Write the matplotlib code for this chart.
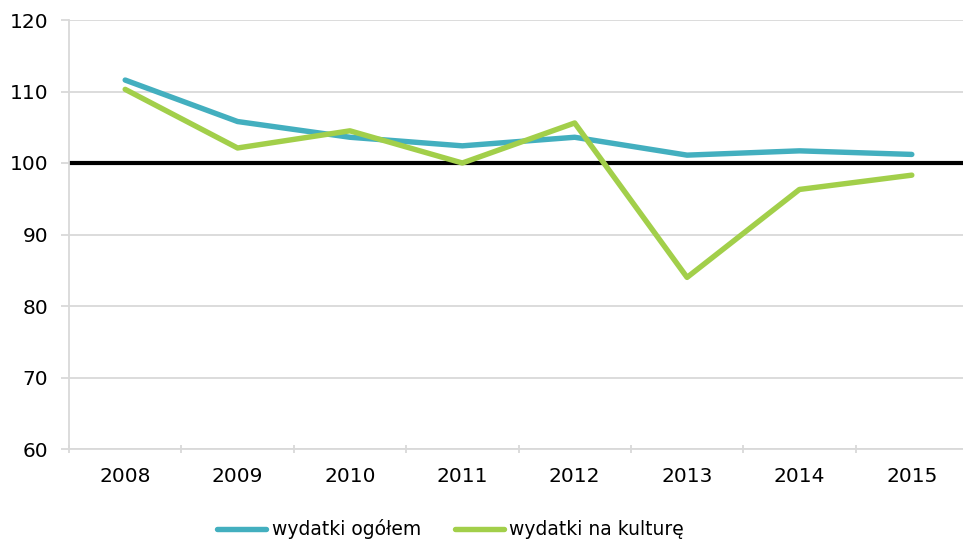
import matplotlib.pyplot as plt
from matplotlib.ticker import FixedLocator

# Data
years = ['2008', '2009', '2010', '2011', '2012', '2013', '2014', '2015']
wydatki_ogolem = [111.6, 105.8, 103.6, 102.4, 103.6, 101.1, 101.7, 101.2]
wydatki_kultura = [110.3, 102.1, 104.5, 100.0, 105.6, 84.0, 96.3, 98.3]
y_ticks = [60, 70, 80, 90, 100, 110, 120]

blue = '#43AFBF'
green = '#A2CF4A'
grid_grey = '#D9D9D9'

plt.rcParams['font.family'] = ['DejaVu Sans']

fig = plt.figure(figsize=(9.63, 5.41), dpi=100)
ax = fig.add_axes([69 / 963, 1 - 449 / 541, 899 / 963, 429 / 541])

x = list(range(len(years)))

# Reference line at 100
ax.axhline(100, color='black', linewidth=3, zorder=2)

ax.plot(x, wydatki_ogolem, color=blue, linewidth=3.9, solid_capstyle='round',
        label='wydatki ogółem', zorder=3)
ax.plot(x, wydatki_kultura, color=green, linewidth=3.9, solid_capstyle='round',
        label='wydatki na kulturę', zorder=3)

ax.set_xlim(-0.5, len(years) - 0.5)
ax.set_ylim(60, 120)
ax.set_yticks(y_ticks)
ax.set_xticks(x)
ax.set_xticklabels(years)
ax.xaxis.set_minor_locator(FixedLocator([i - 0.5 for i in range(len(years) + 1)]))

ax.grid(axis='y', color=grid_grey, linewidth=1.3, zorder=1)
for side in ['top', 'right']:
    ax.spines[side].set_visible(False)
for side in ['left', 'bottom']:
    ax.spines[side].set_color(grid_grey)
    ax.spines[side].set_linewidth(1.3)

ax.tick_params(axis='y', length=6, width=1.3, color=grid_grey, pad=9, labelsize=14.5)
ax.tick_params(axis='x', which='major', length=0, pad=13, labelsize=14.5)
ax.tick_params(axis='x', which='minor', length=6, width=1.3, color=grid_grey, direction='inout')

fig.legend(loc='center', bbox_to_anchor=(0.468, 0.022), ncol=2, frameon=False,
           fontsize=13.5, handlelength=2.6, handletextpad=0.3, columnspacing=1.8)

fig.savefig('out.png', dpi=100)
